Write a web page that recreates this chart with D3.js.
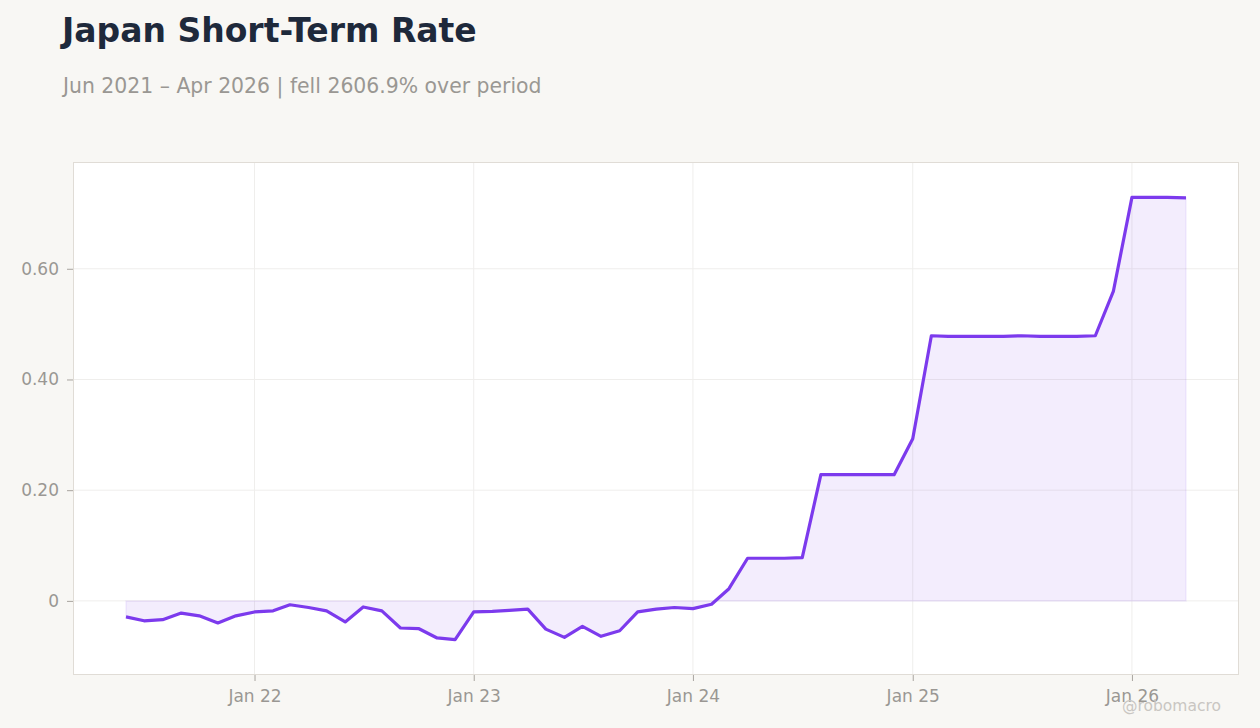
<!DOCTYPE html>
<html lang="en">
<head>
<meta charset="utf-8">
<title>Japan Short-Term Rate</title>
<script src="https://cdn.jsdelivr.net/npm/d3@7/dist/d3.min.js"></script>
<style>
  html, body { margin: 0; padding: 0; background: #f8f7f4; }
  text { font-family: "DejaVu Sans", sans-serif; }
</style>
</head>
<body>
<div id="chart"></div>
<script>
// monthly observations, Jun 2021 .. Apr 2026
var startMonth = "2021-06";
var rates = [
  -0.029, -0.036, -0.034, -0.022, -0.027, -0.040, -0.027,           // Jun-Dec 21
  -0.020, -0.018, -0.007, -0.012, -0.018, -0.038, -0.011, -0.018,   // 2022
  -0.049, -0.050, -0.067, -0.070,
  -0.020, -0.019, -0.017, -0.015, -0.051, -0.066, -0.046, -0.064,   // 2023
  -0.054, -0.020, -0.015, -0.012,
  -0.014, -0.006, 0.022, 0.077, 0.077, 0.077, 0.078, 0.228,         // 2024
  0.228, 0.228, 0.228, 0.228,
  0.293, 0.479, 0.478, 0.478, 0.478, 0.478, 0.479, 0.478,           // 2025
  0.478, 0.478, 0.479, 0.559,
  0.729, 0.729, 0.729, 0.728                                        // 2026
];
var yTicks = [0, 0.2, 0.4, 0.6];
var xTickYears = [2022, 2023, 2024, 2025, 2026];

var W = 1260, H = 728;
var margin = {left: 73, right: 21, top: 162, bottom: 53};
var width = W - margin.left - margin.right;
var height = H - margin.top - margin.bottom;

var parse = d3.timeParse("%Y-%m");
var t0 = parse(startMonth);
var data = rates.map(function(v, i) {
  return {date: d3.timeMonth.offset(t0, i), value: v};
});

var svg = d3.select("#chart").append("svg")
  .attr("width", W).attr("height", H);

// titles
svg.append("text")
  .attr("x", 62).attr("y", 42)
  .attr("font-size", "33px").attr("font-weight", "bold")
  .attr("fill", "#1e293b")
  .text("Japan Short-Term Rate");

svg.append("text")
  .attr("x", 63).attr("y", 93)
  .attr("font-size", "20.4px").attr("fill", "#9a9793")
  .text("Jun 2021 \u2013 Apr 2026 | fell 2606.9% over period");

var g = svg.append("g")
  .attr("transform", "translate(" + margin.left + "," + margin.top + ")");

g.append("rect")
  .attr("width", width).attr("height", height)
  .attr("fill", "#fff");

// scales
var ext = d3.extent(data, function(d) { return d.date; });
var span = ext[1] - ext[0];
var x = d3.scaleTime()
  .domain([new Date(+ext[0] - span * 0.05), new Date(+ext[1] + span * 0.05)])
  .range([0, width]);

var yMin = d3.min(rates), yMax = d3.max(rates);
var pad = (yMax - yMin) * 0.08;
var y = d3.scaleLinear()
  .domain([yMin - pad, yMax + pad])
  .range([height, 0]);

var xTicks = xTickYears.map(function(yr) { return new Date(yr, 0, 1); });

// grid
g.append("g").selectAll("line")
  .data(yTicks).enter().append("line")
  .attr("x1", 0).attr("x2", width)
  .attr("y1", function(d) { return y(d); })
  .attr("y2", function(d) { return y(d); })
  .attr("stroke", "#efeeec").attr("stroke-width", 1);

g.append("g").selectAll("line")
  .data(xTicks).enter().append("line")
  .attr("x1", function(d) { return x(d); })
  .attr("x2", function(d) { return x(d); })
  .attr("y1", 0).attr("y2", height)
  .attr("stroke", "#efeeec").attr("stroke-width", 1);

// area + line
var area = d3.area()
  .x(function(d) { return x(d.date); })
  .y0(y(0))
  .y1(function(d) { return y(d.value); });

g.append("path")
  .datum(data)
  .attr("d", area)
  .attr("fill", "#7c3aed").attr("fill-opacity", 0.09)
  .attr("stroke", "#7c3aed").attr("stroke-opacity", 0.08)
  .attr("stroke-width", 1.5);

var line = d3.line()
  .x(function(d) { return x(d.date); })
  .y(function(d) { return y(d.value); });

g.append("path")
  .datum(data)
  .attr("d", line)
  .attr("fill", "none")
  .attr("stroke", "#7c3aed")
  .attr("stroke-width", 3.2)
  .attr("stroke-linejoin", "round");

// frame
g.append("rect")
  .attr("x", 0.5).attr("y", 0.5)
  .attr("width", width - 1).attr("height", height - 1)
  .attr("fill", "none").attr("stroke", "#e0dcd6");

// axes
var yAxis = d3.axisLeft(y)
  .tickValues(yTicks)
  .tickSize(6).tickPadding(8)
  .tickFormat(function(d) { return d === 0 ? "0" : d3.format(".2f")(d); });

var ya = g.append("g").call(yAxis);
ya.select(".domain").remove();
ya.selectAll(".tick line").attr("stroke", "#a8a49f");
ya.selectAll(".tick text")
  .attr("fill", "#9a9793").attr("font-size", "17px")
  .attr("font-family", "DejaVu Sans, sans-serif");

var xAxis = d3.axisBottom(x)
  .tickValues(xTicks)
  .tickSize(6).tickPadding(9)
  .tickFormat(d3.timeFormat("Jan %y"));

var xa = g.append("g")
  .attr("transform", "translate(0," + height + ")")
  .call(xAxis);
xa.select(".domain").remove();
xa.selectAll(".tick line").attr("stroke", "#a8a49f");
xa.selectAll(".tick text")
  .attr("fill", "#9a9793").attr("font-size", "17px")
  .attr("font-family", "DejaVu Sans, sans-serif");

// watermark
svg.append("text")
  .attr("x", 1221).attr("y", 711)
  .attr("text-anchor", "end")
  .attr("font-size", "15.5px").attr("fill", "#c9c6c2")
  .text("@robomacro");
</script>
</body>
</html>
